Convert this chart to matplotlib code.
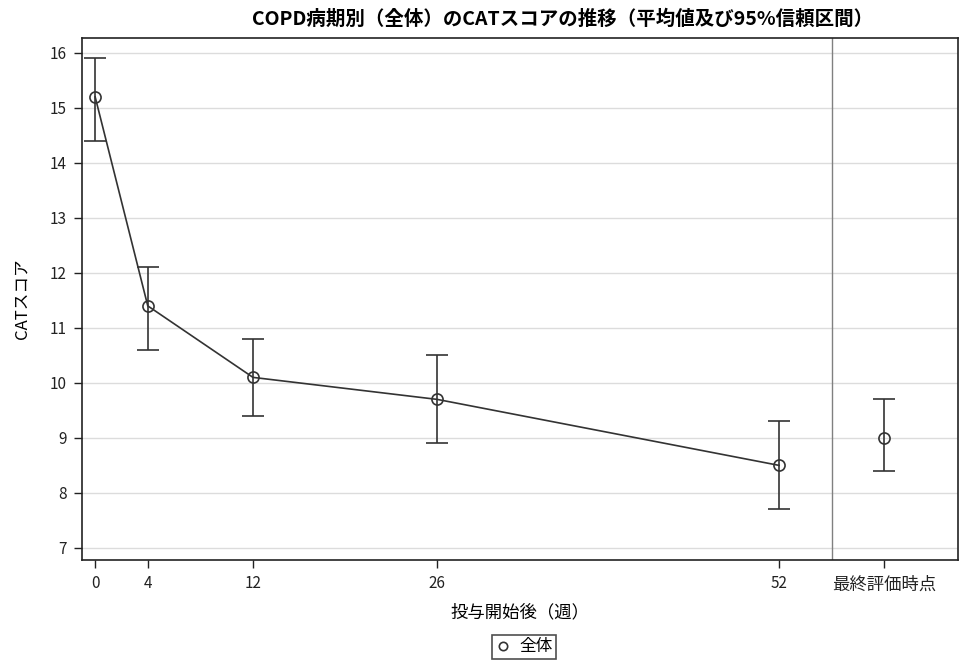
import matplotlib
matplotlib.use("Agg")
import matplotlib.pyplot as plt
from matplotlib.lines import Line2D

plt.rcParams['font.family'] = ['Noto Sans CJK JP', 'DejaVu Sans']

# Visit weeks and CAT score summary (mean with 95% CI)
weeks = [0, 4, 12, 26, 52]
means = [15.2, 11.4, 10.1, 9.7, 8.5]
lower = [14.4, 10.6, 9.4, 8.9, 7.7]
upper = [15.9, 12.1, 10.8, 10.5, 9.3]

# Final evaluation point, shown apart from the time course
final_label = "最終評価時点"
final_pos = 60
final_mean = 9.0
final_lower = 8.4
final_upper = 9.7
separator_pos = 56

tick_labels = ["0", "4", "12", "26", "52", final_label]
y_ticks = [7, 8, 9, 10, 11, 12, 13, 14, 15, 16]

fig = plt.figure(figsize=(9.69, 6.61), dpi=100)
ax = fig.add_axes([82 / 969, 1 - 560 / 661, 876 / 969, 522 / 661])

ax.set_xlim(-1, 65.6)
ax.set_ylim(6.78, 16.27)

for y in y_ticks:
    ax.axhline(y, color="#dcdcdc", lw=1.0, zorder=0)
ax.axvline(separator_pos, color="#808080", lw=1.0, zorder=1)

c = "#333333"
yerr = [[m - l for m, l in zip(means, lower)], [u - m for m, u in zip(means, upper)]]
ax.errorbar(weeks, means, yerr=yerr, fmt="none", ecolor=c, elinewidth=1.2,
            capsize=8, capthick=1.2, zorder=2)
ax.plot(weeks, means, color=c, lw=1.2, zorder=3)
ax.plot(weeks, means, "o", ms=8, mfc="none", mec=c, mew=1.2, zorder=4)

ax.errorbar([final_pos], [final_mean],
            yerr=[[final_mean - final_lower], [final_upper - final_mean]],
            fmt="none", ecolor=c, elinewidth=1.2, capsize=8, capthick=1.2, zorder=2)
ax.plot([final_pos], [final_mean], "o", ms=8, mfc="none", mec=c, mew=1.2, zorder=4)

ax.set_xticks(weeks + [final_pos])
ax.set_xticklabels(tick_labels, fontsize=11)
ax.get_xticklabels()[-1].set_fontsize(12.5)
ax.set_yticks(y_ticks)
ax.set_yticklabels([str(v) for v in y_ticks], fontsize=11)
ax.tick_params(direction="out", length=6, width=1.0, colors="#222222", pad=5)

for s in ax.spines.values():
    s.set_color("#222222")
    s.set_linewidth(1.2)

ax.set_xlabel("投与開始後（週）", fontsize=12.5, labelpad=7)
ax.set_ylabel("CATスコア", fontsize=12, labelpad=14)
fig.suptitle("COPD病期別（全体）のCATスコアの推移（平均値及び95%信頼区間）",
             fontsize=14, fontweight="bold", x=563 / 969, y=0.985)

handle = Line2D([], [], ls="none", marker="o", ms=6, mfc="none", mec=c, mew=1.2)
leg = fig.legend([handle], ["全体"], loc="center", bbox_to_anchor=(524 / 969, 1 - 647 / 661),
                 frameon=True, fancybox=False, edgecolor="#222222", fontsize=12,
                 handlelength=1.0, handletextpad=0.5, borderpad=0.2, borderaxespad=0)
leg.get_frame().set_linewidth(1.2)

fig.savefig("out.png", dpi=100)
